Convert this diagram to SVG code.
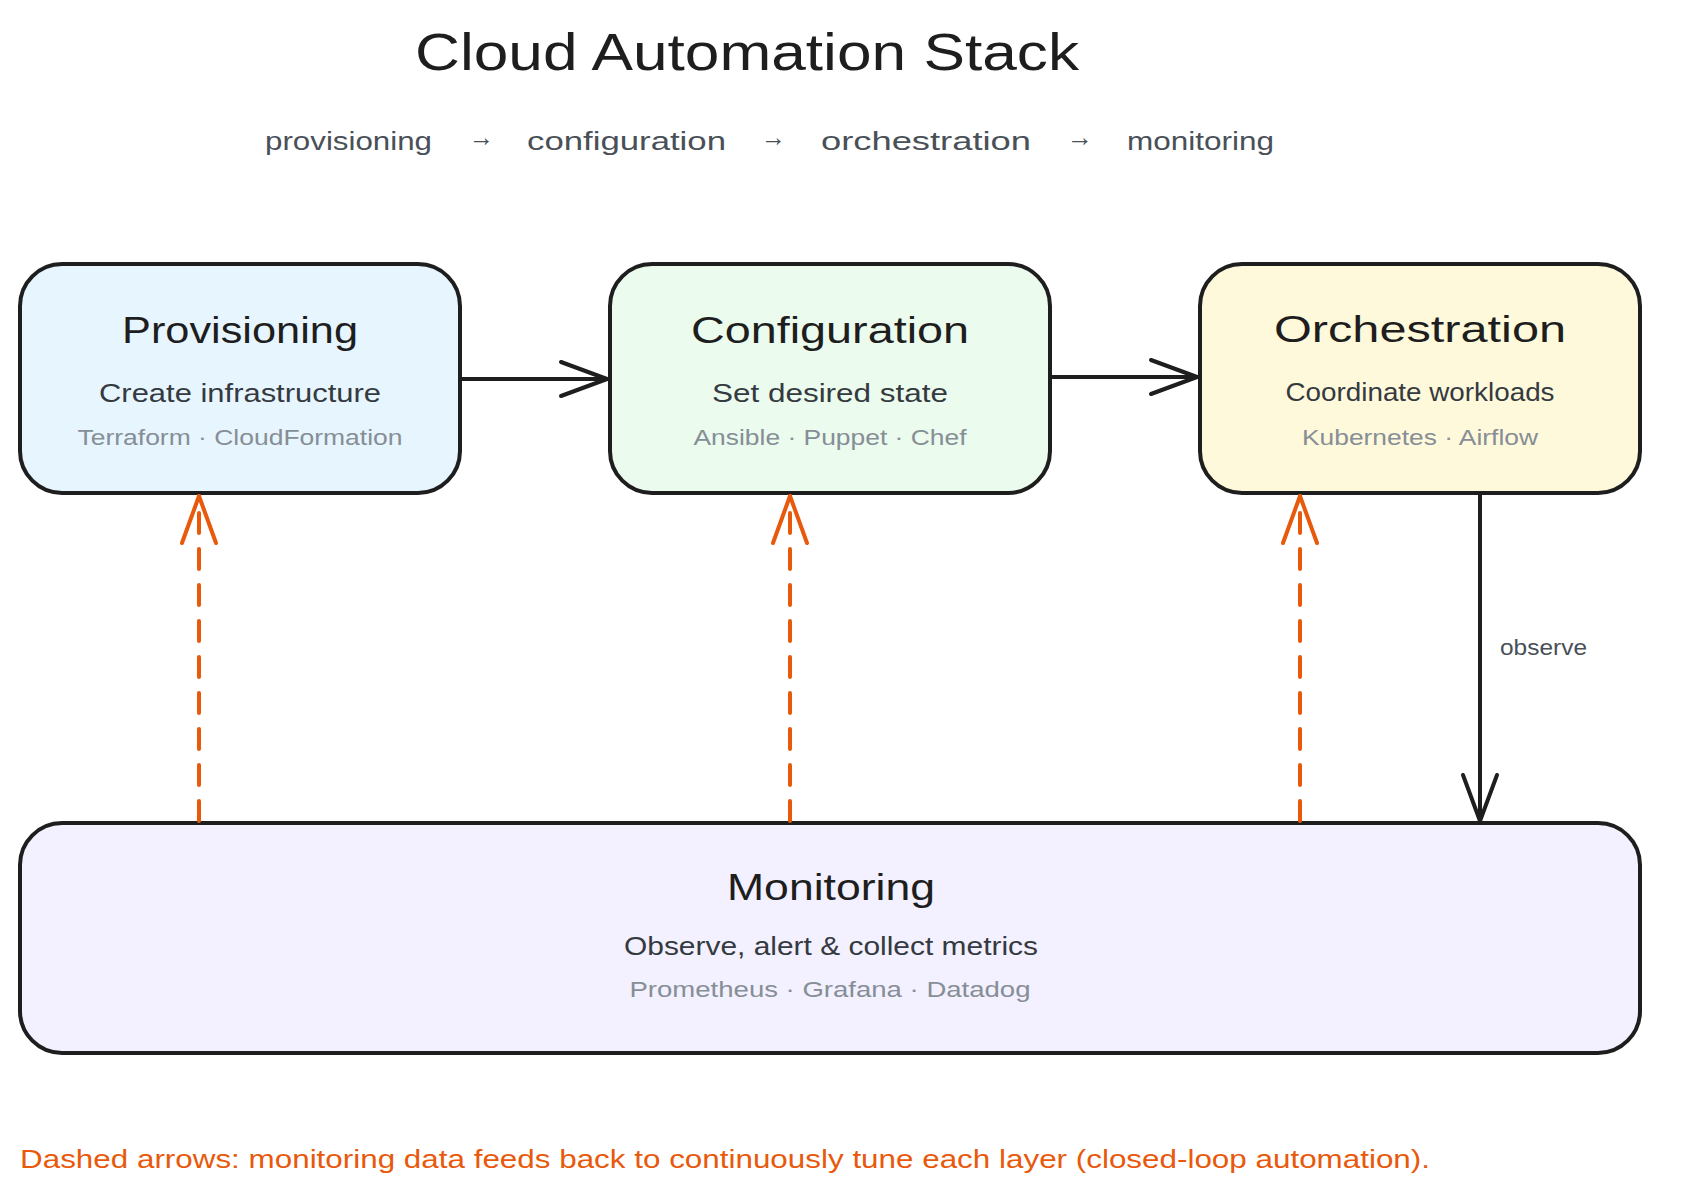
<svg xmlns="http://www.w3.org/2000/svg" width="1700" height="1198" viewBox="0 0 1700 1198">
  <style>
    text { font-family: "Liberation Sans", "Noto Sans", sans-serif; }
    .box { stroke: #1e1e1e; stroke-width: 4; }
    .ttl { font-size: 36px; fill: #1e1e1e; text-anchor: middle; }
    .sub { font-size: 25px; fill: #343a40; text-anchor: middle; }
    .tech { font-size: 22px; fill: #868e96; text-anchor: middle; }
    .conn { fill: none; stroke: #1e1e1e; stroke-width: 4; stroke-linecap: round; }
    .fb { fill: none; stroke: #e8590c; stroke-width: 4; stroke-linecap: round; stroke-dasharray: 20 16; }
  </style>
  <defs>
    <marker id="arrowBlack" markerUnits="userSpaceOnUse" viewBox="-50 -20 54 40" refX="0" refY="0" markerWidth="54" markerHeight="40" orient="auto" overflow="visible">
      <path d="M -46 -17 L 0 0 L -46 17" fill="none" stroke="#1e1e1e" stroke-width="4" stroke-linecap="round" stroke-linejoin="round"/>
    </marker>
    <marker id="arrowOrange" markerUnits="userSpaceOnUse" viewBox="-50 -20 54 40" refX="0" refY="0" markerWidth="54" markerHeight="40" orient="auto" overflow="visible">
      <path d="M -47 -17 L 0 0 L -47 17" fill="none" stroke="#e8590c" stroke-width="4" stroke-linecap="round" stroke-linejoin="round"/>
    </marker>
  </defs>

  <rect width="1700" height="1198" fill="#ffffff"/>

  <g id="header">
    <text x="415" y="70" font-size="52" fill="#1e1e1e" textLength="664" lengthAdjust="spacingAndGlyphs">Cloud Automation Stack</text>
    <text y="150" font-size="26" fill="#495057">
      <tspan x="265" textLength="167" lengthAdjust="spacingAndGlyphs">provisioning</tspan>
      <tspan x="469" y="146" textLength="25" lengthAdjust="spacingAndGlyphs">→</tspan>
      <tspan x="527" y="150" textLength="199" lengthAdjust="spacingAndGlyphs">configuration</tspan>
      <tspan x="761" y="146" textLength="25" lengthAdjust="spacingAndGlyphs">→</tspan>
      <tspan x="821" y="150" textLength="210" lengthAdjust="spacingAndGlyphs">orchestration</tspan>
      <tspan x="1067" y="146" textLength="26" lengthAdjust="spacingAndGlyphs">→</tspan>
      <tspan x="1127" y="150" textLength="147" lengthAdjust="spacingAndGlyphs">monitoring</tspan>
    </text>
  </g>

  <g id="node-provisioning">
    <rect class="box" x="20" y="264" width="440" height="229" rx="42" fill="#e7f5ff"/>
    <text class="ttl" x="240" y="343" textLength="236" lengthAdjust="spacingAndGlyphs">Provisioning</text>
    <text class="sub" x="240" y="402" textLength="282" lengthAdjust="spacingAndGlyphs">Create infrastructure</text>
    <text class="tech" x="240" y="445" textLength="325" lengthAdjust="spacingAndGlyphs">Terraform · CloudFormation</text>
  </g>

  <g id="node-configuration">
    <rect class="box" x="610" y="264" width="440" height="229" rx="42" fill="#ebfbee"/>
    <text class="ttl" x="830" y="343" textLength="278" lengthAdjust="spacingAndGlyphs">Configuration</text>
    <text class="sub" x="830" y="402" textLength="236" lengthAdjust="spacingAndGlyphs">Set desired state</text>
    <text class="tech" x="830" y="445" textLength="273" lengthAdjust="spacingAndGlyphs">Ansible · Puppet · Chef</text>
  </g>

  <g id="node-orchestration">
    <rect class="box" x="1200" y="264" width="440" height="229" rx="42" fill="#fff9db"/>
    <text class="ttl" x="1420" y="342" textLength="292" lengthAdjust="spacingAndGlyphs">Orchestration</text>
    <text class="sub" x="1420" y="401" textLength="269" lengthAdjust="spacingAndGlyphs">Coordinate workloads</text>
    <text class="tech" x="1420" y="445" textLength="236" lengthAdjust="spacingAndGlyphs">Kubernetes · Airflow</text>
  </g>

  <g id="node-monitoring">
    <rect class="box" x="20" y="823" width="1620" height="230" rx="42" fill="#f3f0ff"/>
    <text class="ttl" x="831" y="900" textLength="208" lengthAdjust="spacingAndGlyphs">Monitoring</text>
    <text class="sub" x="831" y="955" textLength="414" lengthAdjust="spacingAndGlyphs">Observe, alert &amp; collect metrics</text>
    <text class="tech" x="830" y="997" textLength="401" lengthAdjust="spacingAndGlyphs">Prometheus · Grafana · Datadog</text>
  </g>

  <g id="connectors">
    <line class="conn" x1="462" y1="379" x2="607" y2="379" marker-end="url(#arrowBlack)"/>
    <line class="conn" x1="1052" y1="377" x2="1197" y2="377" marker-end="url(#arrowBlack)"/>
    <line class="conn" x1="1480" y1="495" x2="1480" y2="821" marker-end="url(#arrowBlack)"/>
    <text x="1500" y="655" font-size="22" fill="#495057" textLength="87" lengthAdjust="spacingAndGlyphs">observe</text>
    <line class="fb" x1="199" y1="821" x2="199" y2="496" marker-end="url(#arrowOrange)"/>
    <line class="fb" x1="790" y1="821" x2="790" y2="496" marker-end="url(#arrowOrange)"/>
    <line class="fb" x1="1300" y1="821" x2="1300" y2="496" marker-end="url(#arrowOrange)"/>
  </g>

  <g id="footer">
    <text x="20" y="1168" font-size="26" fill="#e8590c" textLength="1410" lengthAdjust="spacingAndGlyphs">Dashed arrows: monitoring data feeds back to continuously tune each layer (closed-loop automation).</text>
  </g>
</svg>
